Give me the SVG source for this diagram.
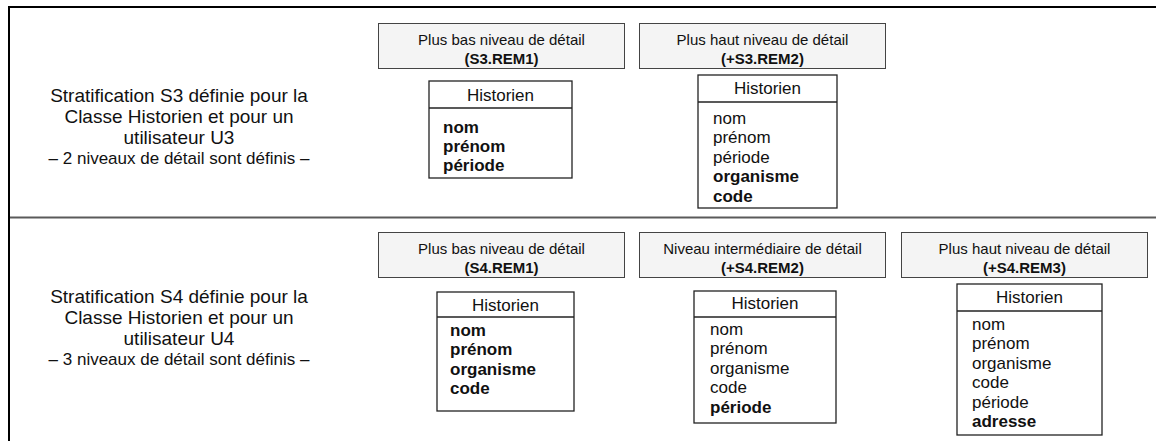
<svg xmlns="http://www.w3.org/2000/svg" width="1156" height="441" viewBox="0 0 1156 441">
<style>
text{font-family:"Liberation Sans",Arial,sans-serif;fill:#111}
.side{font-size:19px;text-anchor:middle}
.side2{font-size:17px;text-anchor:middle}
.hd{font-size:15px;text-anchor:middle}
.b{font-weight:bold}
.cn{font-size:17px;text-anchor:middle}
.at{font-size:17px}
.hbox{fill:#f4f4f4;stroke:#444;stroke-width:1}
.cbox{fill:#fff;stroke:#222;stroke-width:1.3}
.sep{stroke:#222;stroke-width:1.3}
</style>
<rect width="1156" height="441" fill="#fff"/>
<g id="frame">
<line x1="8" y1="7" x2="1156" y2="7" stroke="#000" stroke-width="2"/>
<line x1="9" y1="6" x2="9" y2="441" stroke="#000" stroke-width="2"/>
<line x1="10" y1="217.5" x2="1156" y2="217.5" stroke="#5a5a5a" stroke-width="2"/>
</g>
<g id="s3-label">
<text class="side" x="179" y="102">Stratification S3 définie pour la</text>
<text class="side" x="179" y="123">Classe Historien et pour un</text>
<text class="side" x="179" y="144">utilisateur U3</text>
<text class="side2" x="179" y="164">– 2 niveaux de détail sont définis –</text>
</g>
<g id="s3-rem1-header">
<rect class="hbox" x="378.5" y="23.5" width="246" height="45"/>
<text class="hd" x="501.5" y="44.5">Plus bas niveau de détail</text>
<text class="hd b" x="501.5" y="63.5">(S3.REM1)</text>
</g>
<g id="s3-rem2-header">
<rect class="hbox" x="639.5" y="23.5" width="246" height="45"/>
<text class="hd" x="762.5" y="44.5">Plus haut niveau de détail</text>
<text class="hd b" x="762.5" y="63.5">(+S3.REM2)</text>
</g>
<g id="s3-rem1-class">
<rect class="cbox" x="429" y="81" width="143" height="97"/>
<line class="sep" x1="429" y1="108" x2="572" y2="108"/>
<text class="cn" x="500.5" y="101">Historien</text>
<text class="at b" x="443" y="132.5">nom</text>
<text class="at b" x="443" y="151.5">prénom</text>
<text class="at b" x="443" y="170.5">période</text>
</g>
<g id="s3-rem2-class">
<rect class="cbox" x="698" y="75" width="139" height="133"/>
<line class="sep" x1="698" y1="102" x2="837" y2="102"/>
<text class="cn" x="767.5" y="94">Historien</text>
<text class="at" x="713" y="123.5">nom</text>
<text class="at" x="713" y="143">prénom</text>
<text class="at" x="713" y="162.5">période</text>
<text class="at b" x="713" y="182">organisme</text>
<text class="at b" x="713" y="201.5">code</text>
</g>
<g id="s4-label">
<text class="side" x="179" y="303">Stratification S4 définie pour la</text>
<text class="side" x="179" y="324">Classe Historien et pour un</text>
<text class="side" x="179" y="345">utilisateur U4</text>
<text class="side2" x="179" y="365">– 3 niveaux de détail sont définis –</text>
</g>
<g id="s4-rem1-header">
<rect class="hbox" x="378.5" y="232.5" width="246" height="45"/>
<text class="hd" x="501.5" y="253.5">Plus bas niveau de détail</text>
<text class="hd b" x="501.5" y="272.5">(S4.REM1)</text>
</g>
<g id="s4-rem2-header">
<rect class="hbox" x="639.5" y="232.5" width="246" height="45"/>
<text class="hd" x="762.5" y="253.5">Niveau intermédiaire de détail</text>
<text class="hd b" x="762.5" y="272.5">(+S4.REM2)</text>
</g>
<g id="s4-rem3-header">
<rect class="hbox" x="901.5" y="232.5" width="246" height="45"/>
<text class="hd" x="1024.5" y="253.5">Plus haut niveau de détail</text>
<text class="hd b" x="1024.5" y="272.5">(+S4.REM3)</text>
</g>
<g id="s4-rem1-class">
<rect class="cbox" x="437" y="292" width="137" height="119"/>
<line class="sep" x1="437" y1="317" x2="574" y2="317"/>
<text class="cn" x="505.5" y="311">Historien</text>
<text class="at b" x="450" y="335.5">nom</text>
<text class="at b" x="450" y="355">prénom</text>
<text class="at b" x="450" y="374.5">organisme</text>
<text class="at b" x="450" y="394">code</text>
</g>
<g id="s4-rem2-class">
<rect class="cbox" x="694" y="291" width="142" height="132"/>
<line class="sep" x1="694" y1="317" x2="836" y2="317"/>
<text class="cn" x="765" y="309">Historien</text>
<text class="at" x="710" y="334.5">nom</text>
<text class="at" x="710" y="354">prénom</text>
<text class="at" x="710" y="373.5">organisme</text>
<text class="at" x="710" y="393">code</text>
<text class="at b" x="710" y="412.5">période</text>
</g>
<g id="s4-rem3-class">
<rect class="cbox" x="957" y="284" width="145" height="151"/>
<line class="sep" x1="957" y1="311" x2="1102" y2="311"/>
<text class="cn" x="1029.5" y="303">Historien</text>
<text class="at" x="972" y="329.5">nom</text>
<text class="at" x="972" y="349">prénom</text>
<text class="at" x="972" y="368.5">organisme</text>
<text class="at" x="972" y="388">code</text>
<text class="at" x="972" y="407.5">période</text>
<text class="at b" x="972" y="427">adresse</text>
</g>
<g id="connectors"></g>
</svg>
